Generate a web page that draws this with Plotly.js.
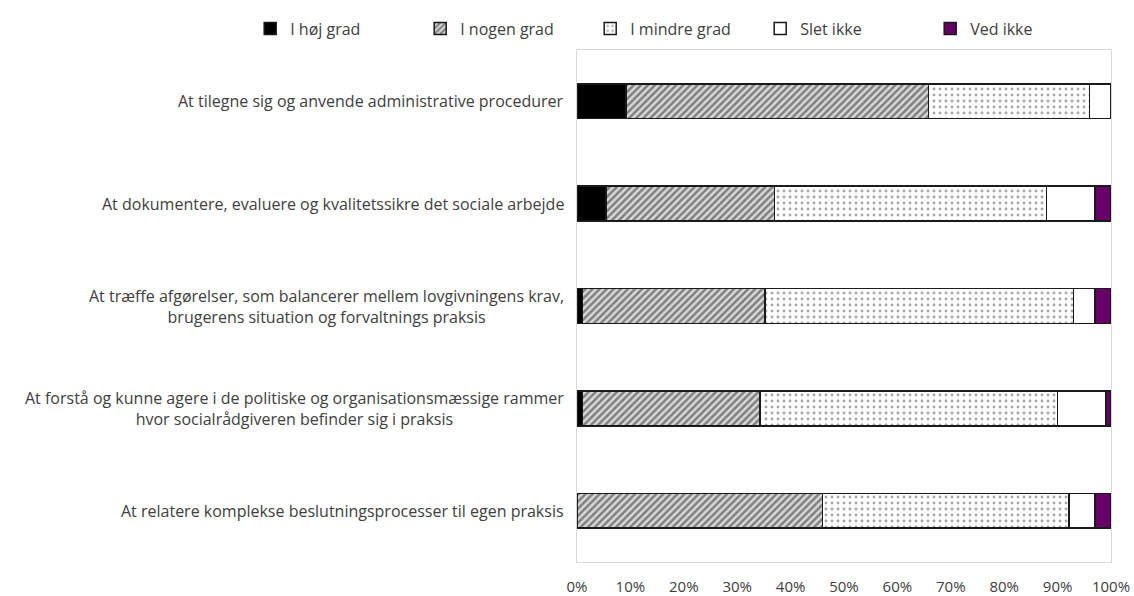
<!DOCTYPE html>
<html>
<head>
<meta charset="utf-8">
<script src="https://cdn.plot.ly/plotly-3.0.1.min.js"></script>
<style>
  html, body { margin: 0; padding: 0; background: #fff; }
  #chart { width: 1134px; height: 596px; }
</style>
</head>
<body>
<div id="chart"></div>
<script>
// Kompetencer: andel af svar pr. udsagn (procent)
const categories = [
  'At tilegne sig og anvende administrative procedurer',
  'At dokumentere, evaluere og kvalitetssikre det sociale arbejde',
  'At træffe afgørelser, som balancerer mellem lovgivningens krav,<br>brugerens situation og forvaltnings praksis',
  'At forstå og kunne agere i de politiske og organisationsmæssige rammer<br>hvor socialrådgiveren befinder sig i praksis',
  'At relatere komplekse beslutningsprocesser til egen praksis'
];

const seriesNames = ['I høj grad', 'I nogen grad', 'I mindre grad', 'Slet ikke', 'Ved ikke'];

const hoejGrad    = [9.2, 5.4, 1.0, 1.0, 0.0];
const nogenGrad   = [56.6, 31.6, 34.2, 33.3, 46.0];
const mindreGrad  = [30.2, 50.9, 57.8, 55.7, 46.1];
const sletIkke    = [4.0, 9.1, 4.0, 9.1, 4.9];
const vedIkke     = [0.0, 3.0, 3.0, 0.9, 3.0];

const xTickValues = [0, 10, 20, 30, 40, 50, 60, 70, 80, 90, 100];

const outline = { color: '#1a1a1a', width: 1.5 };
const textFont = { family: 'Open Sans, sans-serif', size: 16, color: '#404040' };
const tickFont = { family: 'Open Sans, sans-serif', size: 15, color: '#404040' };

const styles = [
  { color: '#000000', line: outline },
  { color: '#d9d9d9', line: outline,
    pattern: { shape: '/', fgcolor: '#7f7f7f', bgcolor: '#d9d9d9', size: 5, solidity: 0.5, fillmode: 'replace' } },
  { color: '#ffffff', line: outline,
    pattern: { shape: '.', fgcolor: '#a6a6a6', bgcolor: '#ffffff', size: 6, solidity: 0.18, fillmode: 'replace' } },
  { color: '#ffffff', line: outline },
  { color: '#660066', line: outline }
];

const values = [hoejGrad, nogenGrad, mindreGrad, sletIkke, vedIkke];

const traces = values.map((vals, i) => ({
  type: 'bar',
  orientation: 'h',
  name: seriesNames[i],
  x: vals,
  y: categories,
  marker: styles[i],
  hoverinfo: 'name+x'
}));

// Kategoritekster som centrerede tekstblokke til venstre for akserne
const labelAnnotations = categories.map(c => ({
  xref: 'paper', yref: 'y',
  x: -0.02, y: c,
  xanchor: 'right', yanchor: 'middle',
  align: 'center',
  text: c,
  showarrow: false,
  font: textFont
}));

const layout = {
  width: 1134,
  height: 596,
  margin: { l: 577, r: 23, t: 45, b: 34 },
  paper_bgcolor: '#ffffff',
  plot_bgcolor: '#ffffff',
  barmode: 'stack',
  bargap: 0.66,
  showlegend: true,
  legend: {
    orientation: 'h',
    x: -0.612, xanchor: 'left',
    y: 1.042, yanchor: 'middle',
    font: textFont,
    entrywidth: 125,
    entrywidthmode: 'pixels',
    itemwidth: 30,
    traceorder: 'normal'
  },
  xaxis: {
    range: [0, 100],
    tickvals: xTickValues,
    ticktext: xTickValues.map(v => v + '%'),
    showgrid: false,
    zeroline: false,
    showline: true,
    mirror: true,
    linecolor: '#d9d9d9',
    linewidth: 1,
    ticks: 'outside',
    ticklen: 11,
    tickcolor: 'rgba(0,0,0,0)',
    tickfont: tickFont,
    fixedrange: true
  },
  yaxis: {
    type: 'category',
    autorange: 'reversed',
    showticklabels: false,
    showgrid: false,
    zeroline: false,
    showline: true,
    mirror: true,
    linecolor: '#d9d9d9',
    linewidth: 1,
    ticks: '',
    fixedrange: true
  },
  annotations: labelAnnotations
};

Plotly.newPlot('chart', traces, layout, { displayModeBar: false, staticPlot: true });
</script>
</body>
</html>
